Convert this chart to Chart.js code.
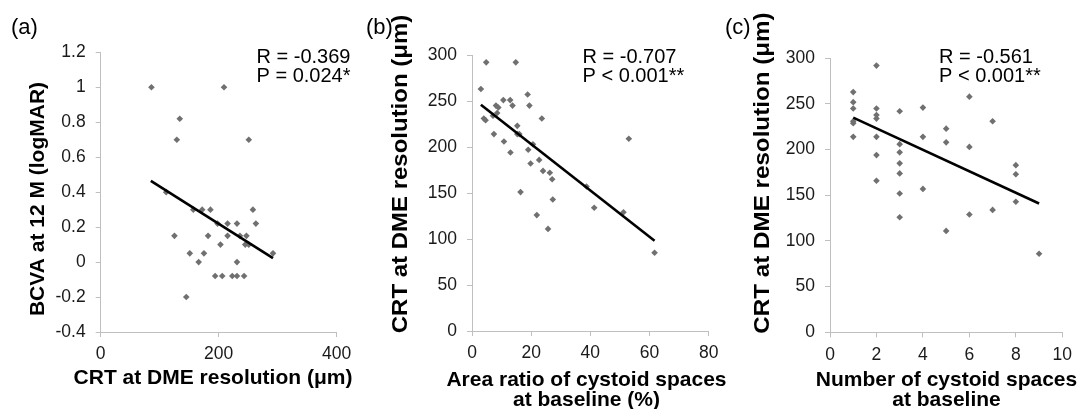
<!DOCTYPE html>
<html>
<head>
<meta charset="utf-8">
<script src="https://cdn.jsdelivr.net/npm/chart.js@4/dist/chart.umd.min.js"></script>
<style>
  html, body { margin: 0; padding: 0; background: #fff; overflow: hidden; }
  canvas { position: absolute; left: 0; top: 0; }
</style>
</head>
<body>
<canvas id="chartA" width="1083" height="411"></canvas>
<canvas id="chartB" width="1083" height="411"></canvas>
<canvas id="chartC" width="1083" height="411"></canvas>
<script>
// (a) CRT vs BCVA
const aCrt = [86, 209, 134, 129, 251, 111, 157, 172, 186, 258, 198, 215, 231, 263, 125, 182, 215,
              236, 247, 203, 245, 251, 151, 175, 292, 166, 231, 194, 206, 223, 231, 243, 145];
const aBcva = [1.0, 1.0, 0.82, 0.70, 0.70, 0.40, 0.30, 0.30, 0.30, 0.30, 0.22, 0.22, 0.22, 0.22, 0.15, 0.15, 0.15,
               0.15, 0.15, 0.10, 0.10, 0.10, 0.05, 0.05, 0.05, 0, 0, -0.08, -0.08, -0.08, -0.08, -0.08, -0.2];
const aTrendX = [85, 292];
const aTrendY = [0.465, 0.023];

// (b) area ratio vs CRT
const bRatio = [4.8, 14.8, 3.0, 18.8, 10.6, 12.9, 8.1, 13.7, 19.4, 8.9, 8.5, 7.1, 4.0, 4.6, 23.6, 15.3, 7.4, 15.3, 16.0,
                53.0, 10.8, 20.6, 13.0, 19.0, 22.7, 19.8, 24.0, 26.3, 27.1, 38.7, 16.4, 27.3, 41.3, 51.2, 21.9, 25.7, 61.7];
const bCrt = [292, 292, 263, 257, 251, 251, 245, 245, 245, 243, 237, 234, 231, 229, 231, 223, 214, 214, 214,
              209, 206, 203, 194, 197, 186, 182, 174, 172, 165, 157, 151, 143, 134, 129, 126, 111, 85];
const bTrendX = [3.0, 61.7];
const bTrendY = [246, 98];

// (c) number of cystoid spaces vs CRT
const cCount = [1, 1, 1, 1, 1, 1,
                2, 2, 2, 2, 2, 2, 2,
                3, 3, 3, 3, 3, 3, 3,
                4, 4, 4,
                5, 5, 5,
                6, 6, 6,
                7, 7,
                8, 8, 8,
                9];
const cCrt = [263, 252, 245, 231, 229, 214,
              292, 245, 238, 234, 214, 194, 166,
              242, 206, 197, 185, 174, 152, 126,
              246, 214, 157,
              223, 208, 111,
              258, 203, 129,
              231, 134,
              183, 173, 143,
              86];
const cTrendX = [1, 9];
const cTrendY = [235, 141];

const FONT = "'Liberation Sans', Arial, sans-serif";
const AXIS_GREY = '#bfbfbf';
const MARK_GREY = '#707070';

// textos extra: rótulo do painel, títulos dos eixos, R / P
const panelText = {
    id: 'panelText',
    afterDraw(chart) {
        const o = chart.options.plugins.panelText;
        const ctx = chart.ctx;
        ctx.save();
        ctx.fillStyle = '#000';
        ctx.textBaseline = 'middle';
        ctx.textAlign = 'left';
        ctx.font = '22px ' + FONT;
        ctx.fillText(o.label, o.labelX, o.labelY);

        ctx.font = '20px ' + FONT;
        o.notes.forEach(function(t, i) {
            ctx.fillText(t, o.noteX, o.noteY + i * 19.7);
        });

        // título do eixo X (uma ou duas linhas)
        ctx.textAlign = 'center';
        ctx.font = 'bold 21px ' + FONT;
        o.xTitle.forEach(function(t, i) {
            ctx.fillText(t, o.xTitleX, o.xTitleY + i * 20);
        });

        // título do eixo Y, girado
        ctx.translate(o.yTitleX, o.yTitleY);
        ctx.rotate(-Math.PI / 2);
        ctx.scale(o.yStretch, 1);
        ctx.font = 'bold ' + o.yTitleSize + 'px ' + FONT;
        ctx.fillText(o.yTitle, 0, 0);
        ctx.restore();
    }
};

function toPoints(xs, ys) {
    return xs.map(function(x, i) { return { x: x, y: ys[i] }; });
}

function axisBase() {
    return {
        type: 'linear',
        grid: { drawOnChartArea: false, drawTicks: true, tickLength: 5, color: AXIS_GREY, tickColor: AXIS_GREY },
        border: { display: true, color: AXIS_GREY, width: 1 },
    };
}

function plotar(id, p) {
    const ctx = document.getElementById(id).getContext('2d');
    const x = axisBase();
    x.min = p.xMin; x.max = p.xMax;
    x.ticks = { stepSize: p.xStep, padding: 7, color: '#1a1a1a', font: { family: FONT, size: 17.5 } };
    x.afterFit = function(s) { s.height = p.xHeight; };

    const y = axisBase();
    y.min = p.yMin; y.max = p.yMax;
    y.ticks = { stepSize: p.yStep, padding: 10, color: '#1a1a1a', font: { family: FONT, size: 17.5 },
                callback: function(v) { return String(Math.round(v * 10) / 10); } };
    y.afterFit = function(s) { s.width = 100; };

    return new Chart(ctx, {
        type: 'scatter',
        data: {
            datasets: [{
                type: 'line',
                data: toPoints(p.trendX, p.trendY),
                borderColor: '#000',
                borderWidth: 2.6,
                pointRadius: 0,
                fill: false,
                order: 0
            }, {
                data: toPoints(p.xs, p.ys),
                pointStyle: 'rectRot',
                pointRadius: 3.3,
                backgroundColor: MARK_GREY,
                borderColor: MARK_GREY,
                borderWidth: 0,
                order: 1
            }],
        },
        options: {
            responsive: false,
            animation: false,
            layout: { padding: p.pad },
            plugins: {
                legend: { display: false },
                tooltip: { enabled: false },
                panelText: p.text
            },
            scales: { x: x, y: y },
        },
        plugins: [panelText]
    });
}

plotar('chartA', {
    xs: aCrt, ys: aBcva, trendX: aTrendX, trendY: aTrendY,
    xMin: 0, xMax: 400, xStep: 200, yMin: -0.4, yMax: 1.2, yStep: 0.2, xHeight: 79,
    pad: { left: 0.7, top: 52.3, right: 1083 - 336.7, bottom: 0 },
    text: { label: '(a)', labelX: 11, labelY: 28,
            notes: ['R = -0.369', 'P = 0.024*'], noteX: 256.5, noteY: 57,
            xTitle: ['CRT at DME resolution (μm)'], xTitleX: 213, xTitleY: 378,
            yTitle: 'BCVA at 12 M (logMAR)', yTitleX: 38.5, yTitleY: 199, yTitleSize: 21, yStretch: 1 }
});

plotar('chartB', {
    xs: bRatio, ys: bCrt, trendX: bTrendX, trendY: bTrendY,
    xMin: 0, xMax: 80, xStep: 20, yMin: 0, yMax: 300, yStep: 50, xHeight: 80,
    pad: { left: 372, top: 55, right: 1083 - 708.7, bottom: 0 },
    text: { label: '(b)', labelX: 366, labelY: 28,
            notes: ['R = -0.707', 'P < 0.001**'], noteX: 582.5, noteY: 57,
            xTitle: ['Area ratio of cystoid spaces', 'at baseline (%)'], xTitleX: 586.5, xTitleY: 380,
            yTitle: 'CRT at DME resolution (μm)', yTitleX: 401, yTitleY: 174, yTitleSize: 22, yStretch: 1.09 }
});

plotar('chartC', {
    xs: cCount, ys: cCrt, trendX: cTrendX, trendY: cTrendY,
    xMin: 0, xMax: 10, xStep: 2, yMin: 0, yMax: 300, yStep: 50, xHeight: 78.7,
    pad: { left: 730, top: 58.3, right: 1083 - 1062.3, bottom: 0 },
    text: { label: '(c)', labelX: 725, labelY: 28,
            notes: ['R = -0.561', 'P < 0.001**'], noteX: 939, noteY: 57,
            xTitle: ['Number of cystoid spaces', 'at baseline'], xTitleX: 946.5, xTitleY: 380,
            yTitle: 'CRT at DME resolution (μm)', yTitleX: 763, yTitleY: 173, yTitleSize: 22, yStretch: 1.1 }
});
</script>
</body>
</html>
